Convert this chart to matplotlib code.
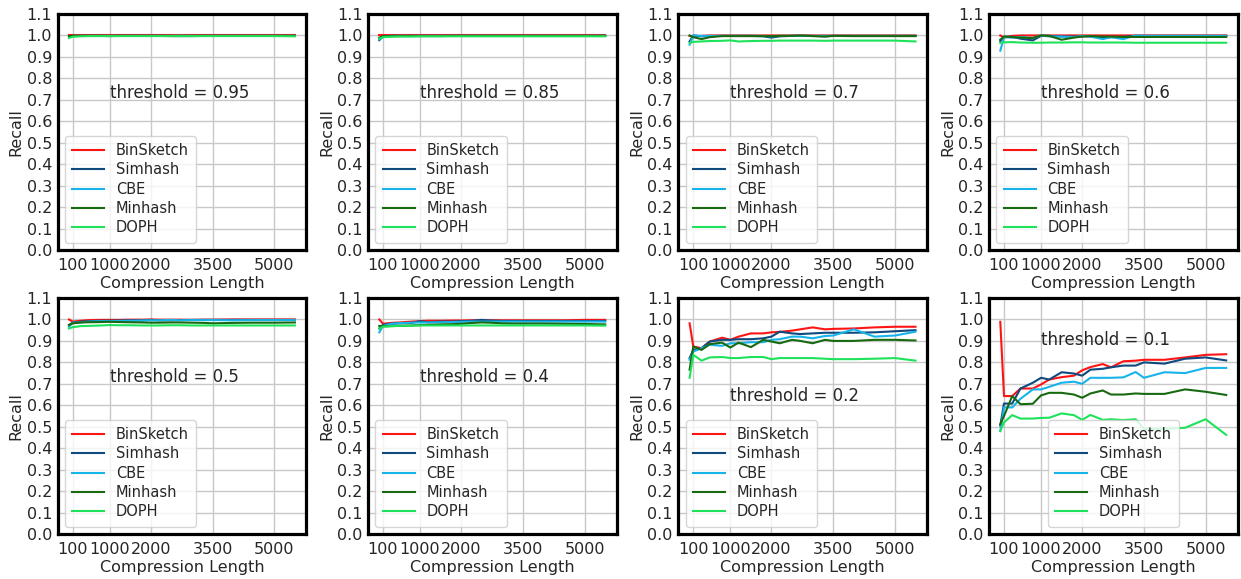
import matplotlib
matplotlib.use("Agg")
import matplotlib.pyplot as plt

# compression lengths
x = [10, 100, 300, 500, 800, 1000, 1200, 1500, 1800, 2000,
     2200, 2500, 2700, 3000, 3300, 3500, 4000, 4500, 5000, 5500]

methods = ["BinSketch", "Simhash", "CBE", "Minhash", "DOPH"]
colors = ["#ff1414", "#0f4a7e", "#17b4ea", "#186a10", "#1ee35a"]
thresholds = ["0.95", "0.85", "0.7", "0.6", "0.5", "0.4", "0.2", "0.1"]

# recall per threshold, one list per method
bin_95 = [1.0, 1.0, 1.0, 1.0, 1.0, 1.0, 1.0, 1.0, 1.0, 1.0, 1.0, 1.0, 1.0, 1.0, 1.0, 1.0, 1.0, 1.0, 1.0, 1.0]
sim_95 = [0.996, 0.998, 0.998, 0.998, 0.998, 0.997, 0.998, 0.998, 0.998, 0.998, 0.998, 0.997, 0.997, 0.997, 0.998, 0.998, 0.998, 0.998, 0.998, 0.998]
cbe_95 = [0.995, 0.998, 0.998, 0.998, 0.998, 0.998, 0.998, 0.998, 0.998, 0.998, 0.998, 0.998, 0.999, 0.998, 0.998, 0.998, 0.998, 0.998, 0.998, 0.998]
min_95 = [0.997, 0.998, 0.998, 0.998, 0.998, 0.998, 0.998, 0.998, 0.998, 0.998, 0.998, 0.998, 0.998, 0.998, 0.998, 0.998, 0.998, 0.998, 0.998, 0.998]
dop_95 = [0.988, 0.994, 0.996, 0.997, 0.997, 0.997, 0.997, 0.997, 0.997, 0.997, 0.997, 0.997, 0.997, 0.997, 0.997, 0.997, 0.997, 0.997, 0.997, 0.996]

bin_85 = [1.0, 1.0, 1.0, 1.0, 1.0, 1.0, 1.0, 1.0, 1.0, 1.0, 1.0, 1.0, 1.0, 1.0, 1.0, 1.0, 1.0, 1.0, 1.0, 1.0]
sim_85 = [0.978, 0.996, 0.998, 0.998, 0.998, 0.998, 0.998, 0.998, 0.998, 0.998, 0.998, 0.998, 0.998, 0.998, 0.998, 0.998, 0.998, 0.998, 0.998, 0.998]
cbe_85 = [0.982, 0.996, 0.998, 0.998, 0.998, 0.998, 0.998, 0.998, 0.998, 0.998, 0.998, 0.998, 0.998, 0.998, 0.998, 0.998, 0.998, 0.998, 0.998, 0.998]
min_85 = [0.99, 0.996, 0.997, 0.997, 0.997, 0.997, 0.997, 0.997, 0.998, 0.998, 0.998, 0.998, 0.998, 0.998, 0.998, 0.998, 0.998, 0.998, 0.998, 0.998]
dop_85 = [0.985, 0.992, 0.994, 0.995, 0.995, 0.996, 0.996, 0.996, 0.996, 0.996, 0.996, 0.996, 0.996, 0.996, 0.996, 0.996, 0.996, 0.996, 0.996, 0.996]

bin_70 = [0.998, 0.995, 0.998, 1.0, 1.0, 1.0, 1.0, 1.0, 1.0, 1.0, 1.0, 1.0, 1.0, 1.0, 1.0, 1.0, 1.0, 1.0, 1.0, 1.0]
sim_70 = [0.972, 1.0, 0.996, 0.997, 0.998, 0.998, 0.998, 0.998, 0.996, 0.99, 0.996, 0.998, 0.998, 0.998, 0.996, 0.998, 0.998, 0.998, 0.998, 0.998]
cbe_70 = [0.957, 1.0, 0.998, 0.998, 0.998, 0.998, 0.998, 0.998, 0.998, 0.996, 0.998, 0.998, 0.998, 0.998, 0.998, 0.998, 0.998, 0.998, 0.998, 0.998]
min_70 = [1.0, 0.992, 0.983, 0.992, 0.997, 0.997, 0.997, 0.997, 0.997, 0.997, 0.998, 0.998, 1.0, 0.997, 0.995, 0.998, 0.997, 0.997, 0.997, 0.997]
dop_70 = [0.965, 0.97, 0.972, 0.974, 0.975, 0.977, 0.972, 0.974, 0.975, 0.975, 0.976, 0.976, 0.976, 0.976, 0.975, 0.976, 0.976, 0.976, 0.976, 0.972]

bin_60 = [1.0, 0.99, 0.998, 1.0, 1.0, 1.0, 1.0, 1.0, 1.0, 1.0, 1.0, 1.0, 1.0, 1.0, 1.0, 1.0, 1.0, 1.0, 1.0, 1.0]
sim_60 = [0.974, 0.994, 0.994, 0.985, 0.977, 0.998, 0.998, 0.995, 0.995, 0.996, 0.996, 0.988, 0.992, 0.994, 0.998, 0.998, 0.998, 0.998, 0.998, 0.998]
cbe_60 = [0.929, 0.992, 0.99, 0.992, 0.988, 1.0, 0.995, 0.995, 0.992, 0.998, 0.995, 0.983, 0.992, 0.983, 1.0, 0.998, 0.998, 0.998, 0.998, 0.998]
min_60 = [0.98, 0.995, 0.992, 0.99, 0.988, 1.0, 0.998, 0.98, 0.99, 0.995, 0.997, 0.995, 0.995, 0.993, 0.993, 0.993, 0.993, 0.993, 0.993, 0.993]
dop_60 = [0.965, 0.968, 0.969, 0.967, 0.966, 0.966, 0.967, 0.967, 0.968, 0.968, 0.967, 0.967, 0.967, 0.967, 0.966, 0.966, 0.966, 0.966, 0.966, 0.966]

bin_50 = [1.0, 0.99, 0.994, 0.997, 0.998, 0.998, 0.998, 0.999, 0.999, 1.0, 0.999, 0.999, 0.999, 0.998, 0.999, 0.999, 1.0, 1.0, 1.0, 1.0]
sim_50 = [0.974, 0.985, 0.99, 0.992, 0.994, 0.994, 0.995, 0.996, 0.996, 0.998, 0.996, 0.996, 0.997, 0.998, 0.998, 0.998, 0.998, 0.998, 0.998, 0.998]
cbe_50 = [0.966, 0.985, 0.986, 0.99, 0.992, 0.992, 0.993, 0.994, 0.995, 0.996, 0.996, 0.998, 0.996, 0.997, 0.997, 0.997, 0.996, 0.997, 0.997, 0.997]
min_50 = [0.974, 0.982, 0.986, 0.987, 0.988, 0.989, 0.988, 0.987, 0.986, 0.985, 0.985, 0.986, 0.986, 0.985, 0.984, 0.982, 0.984, 0.985, 0.985, 0.986]
dop_50 = [0.958, 0.964, 0.969, 0.97, 0.972, 0.974, 0.973, 0.973, 0.972, 0.972, 0.972, 0.973, 0.973, 0.972, 0.972, 0.972, 0.972, 0.972, 0.972, 0.972]

bin_40 = [1.0, 0.98, 0.984, 0.986, 0.99, 0.992, 0.994, 0.994, 0.995, 0.995, 0.996, 0.996, 0.996, 0.996, 0.996, 0.996, 0.996, 0.996, 0.998, 0.998]
sim_40 = [0.958, 0.975, 0.98, 0.982, 0.984, 0.992, 0.987, 0.99, 0.99, 0.992, 0.993, 0.998, 0.995, 0.993, 0.993, 0.993, 0.993, 0.993, 0.993, 0.993]
cbe_40 = [0.94, 0.97, 0.98, 0.983, 0.985, 0.986, 0.986, 0.987, 0.988, 0.989, 0.99, 0.99, 0.99, 0.99, 0.99, 0.99, 0.99, 0.99, 0.99, 0.99]
min_40 = [0.97, 0.968, 0.969, 0.97, 0.972, 0.974, 0.975, 0.977, 0.978, 0.98, 0.983, 0.986, 0.985, 0.982, 0.981, 0.981, 0.981, 0.98, 0.979, 0.977]
dop_40 = [0.958, 0.966, 0.969, 0.97, 0.971, 0.972, 0.972, 0.972, 0.972, 0.972, 0.972, 0.972, 0.972, 0.972, 0.972, 0.972, 0.972, 0.972, 0.972, 0.971]

bin_20 = [0.982, 0.874, 0.866, 0.897, 0.915, 0.905, 0.92, 0.935, 0.935, 0.94, 0.942, 0.948, 0.954, 0.963, 0.954, 0.956, 0.958, 0.963, 0.966, 0.966]
sim_20 = [0.82, 0.858, 0.866, 0.897, 0.905, 0.905, 0.908, 0.908, 0.912, 0.92, 0.943, 0.935, 0.932, 0.935, 0.938, 0.938, 0.938, 0.94, 0.945, 0.95]
cbe_20 = [0.812, 0.85, 0.866, 0.882, 0.877, 0.889, 0.889, 0.894, 0.894, 0.905, 0.908, 0.92, 0.92, 0.912, 0.923, 0.925, 0.954, 0.92, 0.925, 0.943]
min_20 = [0.766, 0.874, 0.858, 0.885, 0.892, 0.869, 0.892, 0.871, 0.905, 0.897, 0.889, 0.905, 0.9, 0.889, 0.905, 0.9, 0.9, 0.905, 0.905, 0.902]
dop_20 = [0.728, 0.835, 0.808, 0.823, 0.825, 0.82, 0.82, 0.825, 0.825, 0.815, 0.82, 0.82, 0.82, 0.82, 0.817, 0.815, 0.815, 0.817, 0.82, 0.808]

bin_10 = [0.989, 0.643, 0.643, 0.678, 0.678, 0.697, 0.72, 0.731, 0.738, 0.763, 0.778, 0.792, 0.777, 0.805, 0.808, 0.812, 0.812, 0.823, 0.835, 0.838]
sim_10 = [0.505, 0.608, 0.608, 0.678, 0.705, 0.728, 0.72, 0.754, 0.748, 0.738, 0.766, 0.77, 0.777, 0.785, 0.785, 0.8, 0.794, 0.817, 0.823, 0.809]
cbe_10 = [0.48, 0.59, 0.59, 0.63, 0.674, 0.674, 0.686, 0.705, 0.71, 0.7, 0.728, 0.728, 0.728, 0.73, 0.755, 0.728, 0.754, 0.75, 0.774, 0.774]
min_10 = [0.512, 0.55, 0.643, 0.605, 0.607, 0.646, 0.658, 0.658, 0.65, 0.635, 0.655, 0.669, 0.65, 0.65, 0.655, 0.653, 0.653, 0.674, 0.663, 0.648]
dop_10 = [0.48, 0.52, 0.554, 0.538, 0.538, 0.541, 0.542, 0.562, 0.554, 0.532, 0.555, 0.532, 0.535, 0.531, 0.535, 0.49, 0.49, 0.495, 0.535, 0.462]

recall = [
    [bin_95, sim_95, cbe_95, min_95, dop_95],
    [bin_85, sim_85, cbe_85, min_85, dop_85],
    [bin_70, sim_70, cbe_70, min_70, dop_70],
    [bin_60, sim_60, cbe_60, min_60, dop_60],
    [bin_50, sim_50, cbe_50, min_50, dop_50],
    [bin_40, sim_40, cbe_40, min_40, dop_40],
    [bin_20, sim_20, cbe_20, min_20, dop_20],
    [bin_10, sim_10, cbe_10, min_10, dop_10],
]
text_y = [0.71, 0.71, 0.71, 0.71, 0.71, 0.71, 0.62, 0.88]

plt.rcParams["font.family"] = "DejaVu Sans"
plt.rcParams["font.size"] = 11.5
plt.rcParams["text.color"] = "#262626"
plt.rcParams["axes.labelcolor"] = "#262626"
plt.rcParams["xtick.color"] = "#262626"
plt.rcParams["ytick.color"] = "#262626"

fig = plt.figure(figsize=(12.41, 5.79), dpi=100)
W, H = 1241, 579
lefts = [57.7, 368.0, 678.3, 989.0]
tops = [14.0, 298.0]
aw, ah = 248.5, 236.0

for i in range(8):
    r, c = divmod(i, 4)
    ax = fig.add_axes([lefts[c] / W, 1 - (tops[r] + ah) / H, aw / W, ah / H])
    for name, col, ys in zip(methods, colors, recall[i]):
        ax.plot(x, ys, color=col, lw=1.5, label=name)
    ax.set_ylim(0, 1.1)
    ax.set_yticks([i / 10 for i in range(12)])
    ax.set_xticks([100, 1000, 2000, 3500, 5000])
    ax.grid(True, color="#c8c8c8", lw=1)
    ax.set_axisbelow(True)
    ax.tick_params(length=0)
    ax.tick_params(axis="x", pad=6)
    ax.tick_params(axis="y", pad=4)
    for s in ax.spines.values():
        s.set_linewidth(2.3)
        s.set_color("black")
    ax.set_xlabel("Compression Length", labelpad=2)
    ax.set_ylabel("Recall", labelpad=2)
    ax.text(1000, text_y[i], "threshold = " + thresholds[i], fontsize=12)
    loc = "lower center" if i == 7 else "lower left"
    ax.legend(loc=loc, fontsize=10.5, handlelength=2.2, handletextpad=0.8,
              labelspacing=0.3, borderpad=0.5)

fig.savefig("out.png", dpi=100)
